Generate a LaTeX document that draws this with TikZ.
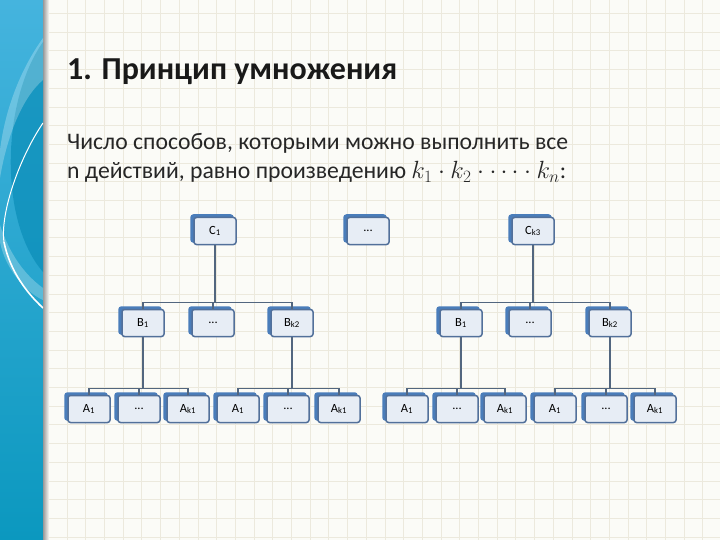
\documentclass[tikz,border=0pt]{standalone}
\usepackage{fontspec}
\setmainfont{Carlito}
\usetikzlibrary{calc,shadows}

\definecolor{paper}{HTML}{FBFBF7}
\definecolor{gridline}{HTML}{ECE9DD}
\definecolor{bandtop}{HTML}{45B4DE}
\definecolor{bandbot}{HTML}{0B98BF}
\definecolor{banddark}{HTML}{0A8DB8}
\definecolor{boxfill}{HTML}{E7EDF5}
\definecolor{boxedge}{HTML}{52709A}
\definecolor{boxback}{HTML}{4A7DBA}
\definecolor{linkgray}{HTML}{52667F}
\definecolor{bodytext}{HTML}{262626}

\tikzset{
  unit/.style={draw=boxedge, fill=boxfill, line width=1.5pt, rounded corners=2.5pt,
    minimum width=42pt, minimum height=27pt, inner sep=0pt,
    font=\fontsize{12.5}{15}\selectfont,
    copy shadow={shadow xshift=-3pt, shadow yshift=2.5pt, fill=boxback, draw=boxback}},
  link/.style={draw=linkgray, line width=1.4pt},
}

\begin{document}
\begin{tikzpicture}[x=1pt, y=-1pt]
  % фон
  \useasboundingbox (0,0) rectangle (720,540);
  \fill[paper] (0,0) rectangle (720,540);
  \foreach \gx in {0,...,38}
    \draw[gridline, line width=0.7pt] (10.9+18.7*\gx,0) -- (10.9+18.7*\gx,540);
  \foreach \gy in {0,...,28}
    \draw[gridline, line width=0.7pt] (0,13.4+18.7*\gy) -- (720,13.4+18.7*\gy);

  % синяя полоса слева
  \shade[top color=bandtop, bottom color=bandbot] (0,0) rectangle (43,540);
  \shade[left color=black!40, right color=paper] (43,0) rectangle (49,540);
  \begin{scope}
    \clip (0,0) rectangle (43,540);
    \fill[banddark, opacity=0.7] (43,42) .. controls (2,100) and (-2,220) .. (43,272) -- cycle;
    \fill[white, opacity=0.25] (43,38) .. controls (20,70) and (5,110) .. (0,150)
      -- (0,178) .. controls (8,130) and (25,95) .. (43,80) -- cycle;
    \fill[white, opacity=0.25] (0,225) .. controls (10,255) and (25,275) .. (43,288)
      -- (43,300) .. controls (25,292) and (5,268) .. (0,242) -- cycle;
    \draw[white, line width=1pt] (43,123) .. controls (18,160) and (0,215) .. (4,242);
    \draw[white, line width=1.6pt] (4,242) .. controls (10,272) and (28,294) .. (43,308);
  \end{scope}

  % заголовок и текст
  \node[anchor=base west, inner sep=0pt, font=\fontsize{32}{38}\bfseries\selectfont,
    text=black!90] (title) at (67,80) {1. Принцип умножения};
  \node[anchor=base west, inner sep=0pt, font=\fontsize{23.7}{28}\selectfont,
    text=bodytext] (line1) at (67,150) {Число способов, которыми можно выполнить все};
  \node[anchor=base west, inner sep=0pt, font=\fontsize{23.7}{28}\selectfont,
    text=bodytext] (line2) at (67,179) {n действий, равно произведению $k_1\cdot k_2\cdot\cdots\cdot k_n$:};

  % верхний уровень
  \node[unit] (c1) at (215,231) {C\textsubscript{1}};
  \node[unit] (cd) at (368,231) {...};
  \node[unit] (ck) at (533,231) {C\textsubscript{k3}};

  % средний уровень
  \node[unit] (b1) at (143,323) {B\textsubscript{1}};
  \node[unit] (bd) at (213,323) {...};
  \node[unit] (bk) at (292,323) {B\textsubscript{k2}};
  \node[unit] (b1r) at (461,323) {B\textsubscript{1}};
  \node[unit] (bdr) at (530,323) {...};
  \node[unit] (bkr) at (610,323) {B\textsubscript{k2}};

  % нижний уровень
  \foreach \ax/\an in {89/1,238/4,407/7,555/10}
    \node[unit] (a\an) at (\ax,409) {A\textsubscript{1}};
  \foreach \ax/\an in {139/2,288/5,457/8,606/11}
    \node[unit] (a\an) at (\ax,409) {...};
  \foreach \ax/\an in {188/3,339/6,505/9,655/12}
    \node[unit] (a\an) at (\ax,409) {A\textsubscript{k1}};

  % связи
  \foreach \p/\kids in {c1/{b1,bd,bk}, ck/{b1r,bdr,bkr}, b1/{a1,a2,a3},
      bk/{a4,a5,a6}, b1r/{a7,a8,a9}, bkr/{a10,a11,a12}}
    \foreach \k in \kids
      \draw[link] (\p.south) |- ($(\k.north)+(0,-6)$) -- (\k.north);
\end{tikzpicture}
\end{document}
